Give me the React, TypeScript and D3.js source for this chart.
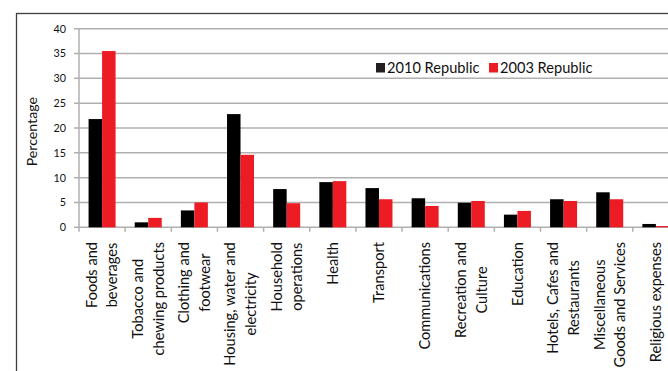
import React from 'react';
import * as d3 from 'd3';

const categories: string[] = [
  'Foods and\nbeverages',
  'Tobacco and\nchewing products',
  'Clothing and\nfootwear',
  'Housing, water and\nelectricity',
  'Household\noperations',
  'Health',
  'Transport',
  'Communications',
  'Recreation and\nCulture',
  'Education',
  'Hotels, Cafes and\nRestaurants',
  'Miscellaneous\nGoods and Services',
  'Religious expenses',
];

const seriesNames: string[] = ['2010 Republic', '2003 Republic'];
const values2010: number[] = [21.8, 1.0, 3.4, 22.8, 7.7, 9.1, 7.9, 5.85, 4.95, 2.55, 5.65, 7.05, 0.67];
const values2003: number[] = [35.5, 1.9, 5.0, 14.6, 4.85, 9.3, 5.65, 4.3, 5.3, 3.3, 5.3, 5.65, 0.25];
const yTicks: number[] = [0, 5, 10, 15, 20, 25, 30, 35, 40];

const W = 668;
const H = 371;
const FONT = 'Lato, "Open Sans", sans-serif';
const COLORS = ['#000000', '#ed1c24'];

let ctx: CanvasRenderingContext2D | null = null;
function measure(text: string, size: number): number {
  if (!ctx && typeof document !== 'undefined') {
    ctx = document.createElement('canvas').getContext('2d');
  }
  if (!ctx) return text.length * size * 0.5;
  ctx.font = `${size}px Lato`;
  return ctx.measureText(text).width;
}

export default function App() {
  const plotLeft = 79;
  const step = 46.15;
  const plotRight = plotLeft + step * categories.length;
  const y0 = 227.3;
  const yTop = 28.7;

  const x = d3.scaleBand<string>().domain(categories).range([plotLeft, plotRight]).padding(0);
  const groupW = x.bandwidth() * 0.585;
  const xs = d3
    .scaleBand<string>()
    .domain(seriesNames)
    .range([0, groupW])
    .padding(0);
  const y = d3.scaleLinear().domain([0, 40]).range([y0, yTop]);

  const series = [values2010, values2003];
  const gridColor = '#b0b0b0';
  const labelSize = 14.6;
  const lineGap = 20.5;
  const labelTop = 242;

  return (
    <svg
      width={W}
      height={H}
      style={{ position: 'absolute', left: 0, top: 0, background: '#fff' }}
      fontFamily={FONT}
    >
      <rect x={0} y={0} width={W} height={H} fill="#fff" />
      {/* outer chart border (cropped) */}
      <rect x={16.5} y={13.5} width={W + 20} height={H + 20} fill="none" stroke="#3f3f3f" strokeWidth={1.3} />

      {/* gridlines */}
      {yTicks.map((t) => (
        <line
          key={'g' + t}
          x1={plotLeft - 5}
          x2={W + 5}
          y1={y(t)}
          y2={y(t)}
          stroke={gridColor}
          strokeWidth={1.5}
        />
      ))}
      {/* y axis */}
      <line x1={plotLeft} x2={plotLeft} y1={yTop} y2={y0 + 4.5} stroke={gridColor} strokeWidth={1.5} />
      {/* x ticks */}
      {categories.map((c, i) => (
        <line
          key={'xt' + i}
          x1={(x(c) as number) + x.bandwidth()}
          x2={(x(c) as number) + x.bandwidth()}
          y1={y0}
          y2={y0 + 4.5}
          stroke={gridColor}
          strokeWidth={1.5}
        />
      ))}

      {/* y tick labels */}
      {yTicks.map((t) => (
        <text
          key={'yl' + t}
          x={66}
          y={y(t)}
          dy="0.36em"
          textAnchor="end"
          fontSize={10.8}
          fill="#111"
        >
          {t}
        </text>
      ))}

      {/* y axis title */}
      <text
        transform={`translate(37, ${131.7}) rotate(-90)`}
        textAnchor="middle"
        fontSize={14.2}
        fill="#111"
      >
        Percentage
      </text>

      {/* bars */}
      {categories.map((c, i) => {
        const gx = (x(c) as number) + (x.bandwidth() - groupW) / 2;
        return series.map((vals, s) => (
          <rect
            key={'b' + i + '-' + s}
            x={gx + (xs(seriesNames[s]) as number)}
            y={y(vals[i])}
            width={xs.bandwidth()}
            height={y0 - y(vals[i])}
            fill={COLORS[s]}
          />
        ));
      })}

      {/* x labels */}
      {categories.map((c, i) => {
        const lines = c.split('\n');
        const n = lines.length;
        const blockW = Math.max(...lines.map((l) => measure(l, labelSize)));
        const cx = (x(c) as number) + x.bandwidth() / 2;
        return lines.map((l, j) => {
          const lx = cx + (j - (n - 1) / 2) * lineGap;
          return (
            <text
              key={'xl' + i + '-' + j}
              transform={`translate(${lx}, ${labelTop + blockW / 2}) rotate(-90)`}
              textAnchor="middle"
              dy="0.35em"
              fontSize={labelSize}
              fill="#111"
            >
              {l}
            </text>
          );
        });
      })}

      {/* legend */}
      {seriesNames.map((s, k) => {
        const lx = k === 0 ? 376 : 489;
        return (
          <g key={'lg' + k}>
            <rect x={lx} y={63} width={9} height={9.5} fill={k === 0 ? '#231f20' : COLORS[1]} />
            <text x={lx + 11} y={72.5} fontSize={14.6} fill="#111">
              {s}
            </text>
          </g>
        );
      })}
    </svg>
  );
}
